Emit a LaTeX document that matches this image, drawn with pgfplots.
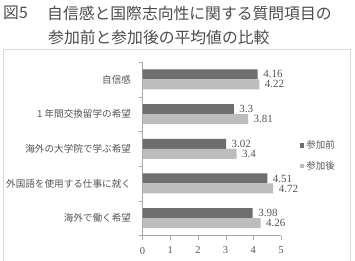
\documentclass[border=0pt]{standalone}
\usepackage{fontspec}
\setmainfont{Liberation Serif}
\newfontfamily\cjk{Noto Sans CJK JP}
\usepackage{pgfplots}
\pgfplotsset{compat=1.18}
\definecolor{before}{HTML}{6E6E6E}
\definecolor{after}{HTML}{BDBDBD}
\definecolor{txt}{HTML}{555555}
\begin{document}
\begin{tikzpicture}
\useasboundingbox (0,0) rectangle (355pt,-260pt);
\fill[white] (0,0) rectangle (355pt,-260pt);
\draw[black!15] (3pt,-49pt) rectangle (350pt,-275pt);
\node[anchor=west, inner sep=0pt, font=\cjk\fontsize{15.8}{18}\selectfont, text=black!70] at (3pt,-13pt) {図5};
\node[anchor=west, inner sep=0pt, font=\cjk\fontsize{15.8}{18}\selectfont, text=black!70] at (47pt,-13pt) {自信感と国際志向性に関する質問項目の};
\node[anchor=west, inner sep=0pt, font=\cjk\fontsize{15.8}{18}\selectfont, text=black!70] at (48pt,-38pt) {参加前と参加後の平均値の比較};
\begin{axis}[
  at={(142.5pt,-235.5pt)}, anchor=south west,
  scale only axis, width=138.5pt, height=173.5pt,
  xbar, bar width=10pt,
  xmin=0, xmax=5, xtick={0,1,2,3,4,5},
  ymin=-0.5, ymax=4.5,
  ytick={0,1,2,3,4},
  yticklabels={海外で働く希望, 外国語を使用する仕事に就く, 海外の大学院で学ぶ希望, 1 年間交換留学の希望, 自信感},
  yticklabel style={font=\cjk\fontsize{9.6}{11}\selectfont, text=txt, xshift=-4pt},
  xticklabel style={font=\fontsize{10.5}{12}\selectfont, text=txt, yshift=-4pt},
  /pgf/number format/assume math mode=true,
  major y tick style={draw=none},
  minor ytick={-0.5,0.5,1.5,2.5,3.5,4.5},
  axis x line*=bottom, axis y line*=left,
  axis line style={draw=black!35, -},
  tick style={draw=black!35},
  minor tick style={draw=black!35},
  tick align=outside, major tick length=4pt, minor tick length=4pt,
  xtick pos=bottom, ytick pos=left,
  point meta=explicit symbolic,
  nodes near coords,
  nodes near coords style={font=\fontsize{11}{12}\selectfont, text=txt, anchor=west, xshift=2pt},
  legend style={at={(1.135,0.46)}, anchor=west, draw=none, fill=none, font=\cjk\fontsize{9.5}{11}\selectfont, text=txt, row sep=7pt, inner sep=0pt},
  legend cell align=left,
  legend image code/.code={\fill[#1] (0pt,-2.2pt) rectangle (4.5pt,2.2pt);},
]
\addplot[fill=before, draw=none, bar shift=5pt] coordinates {
  (3.98,0) [3.98]
  (4.51,1) [4.51]
  (3.02,2) [3.02]
  (3.3,3) [3.3]
  (4.16,4) [4.16]
};
\addplot[fill=after, draw=none, bar shift=-5pt] coordinates {
  (4.26,0) [4.26]
  (4.72,1) [4.72]
  (3.4,2) [3.4]
  (3.81,3) [3.81]
  (4.22,4) [4.22]
};
\legend{参加前, 参加後}
\end{axis}
\end{tikzpicture}
\end{document}
